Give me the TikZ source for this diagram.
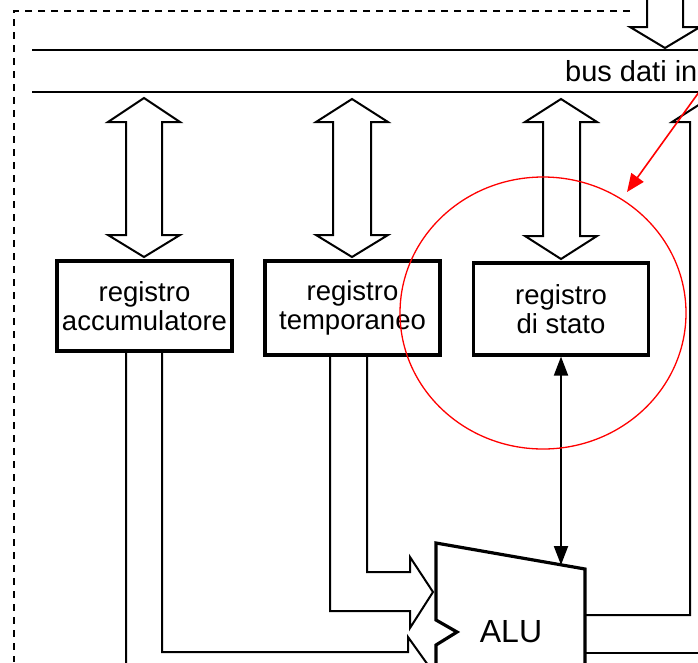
\documentclass[tikz,border=0pt]{standalone}
\usepackage{fontspec}
\setmainfont{Liberation Sans}
\usetikzlibrary{arrows.meta}

\begin{document}
\begin{tikzpicture}[x=1pt,y=-1pt,
  regbox/.style={draw,line width=3.2pt,minimum width=175pt,minimum height=92pt,inner sep=0pt,align=center,font=\fontsize{27.5}{29}\selectfont},
  widearrow/.style={line width=2pt,line join=miter}]
\useasboundingbox (0,0) rectangle (698,662);
% cornice tratteggiata
\draw[line width=2pt,dash pattern=on 7pt off 6pt] (630,11) -- (14,11) -- (14,662);
% bus dati
\draw[line width=1.8pt] (32,50) -- (698,50);
\draw[line width=1.8pt] (32,92) -- (698,92);
\node[anchor=base west,inner sep=0pt,font=\fontsize{29}{31}\selectfont] (bus) at (565,81) {bus dati in};
\draw[widearrow] (647,-4) -- (647,27) -- (630,27) -- (665,48) -- (700,27) -- (683,27) -- (683,-4);
% registri
\node[regbox,minimum height=90pt] (acc) at (144.5,306) {registro\\accumulatore};
\node[regbox,minimum height=94pt] (temp) at (352.5,308) {registro\\temporaneo};
\node[regbox,minimum height=92pt] (stato) at (561,309) {registro\\di stato};
% frecce verso il bus
\draw[widearrow] (144,98) -- (180,122) -- (162,122) -- (162,235) -- (180,235) -- (144,257) -- (108,235) -- (126,235) -- (126,122) -- (108,122) -- cycle;
\draw[widearrow] (352,99) -- (388,122) -- (371,122) -- (371,235) -- (388,235) -- (352,257) -- (316,235) -- (333,235) -- (333,122) -- (316,122) -- cycle;
\draw[widearrow] (561,99) -- (597,122) -- (580,122) -- (580,236) -- (597,236) -- (561,259) -- (525,236) -- (543,236) -- (543,122) -- (525,122) -- cycle;
% ALU
\draw[line width=3.2pt,line join=miter] (436,543) -- (585,569) -- (585,720) -- (436,746) -- (436,645) -- (457,632) -- (436,620) -- cycle;
\node[anchor=base,inner sep=0pt,font=\fontsize{32}{34}\selectfont] (alu) at (511,642) {ALU};
\coordinate (alutop) at (561,565);
% ingressi della ALU
\draw[widearrow] (367,0 |- temp.south) -- (367,572) -- (410,572) -- (410,557) -- (433,592) -- (410,628) -- (410,611) -- (330,611) -- (330,0 |- temp.south);
\draw[widearrow] (162,0 |- acc.south) -- (162,652) -- (408,652) -- (408,637) -- (433,672) -- (408,707) -- (408,691) -- (126,691) -- (126,0 |- acc.south);
% uscita della ALU
\draw[widearrow] (585,615) -- (690,615) -- (690,122) -- (672,122) -- (708,99) -- (744,122);
\draw[widearrow] (585,653) -- (726,653);
% registro di stato <-> ALU
\draw[line width=2pt,{Triangle[length=19pt,width=14pt]}-{Triangle[length=19pt,width=14pt]}] (stato.south) -- (alutop);
% evidenziazione
\coordinate (redstart) at (712,74);
\coordinate (redtip) at (627,192);
\draw[red,line width=1.3pt] (543,313) ellipse [x radius=143pt,y radius=136pt];
\draw[red,line width=1.6pt,-{Triangle[length=18pt,width=15pt]}] (redstart) -- (redtip);
\end{tikzpicture}
\end{document}
